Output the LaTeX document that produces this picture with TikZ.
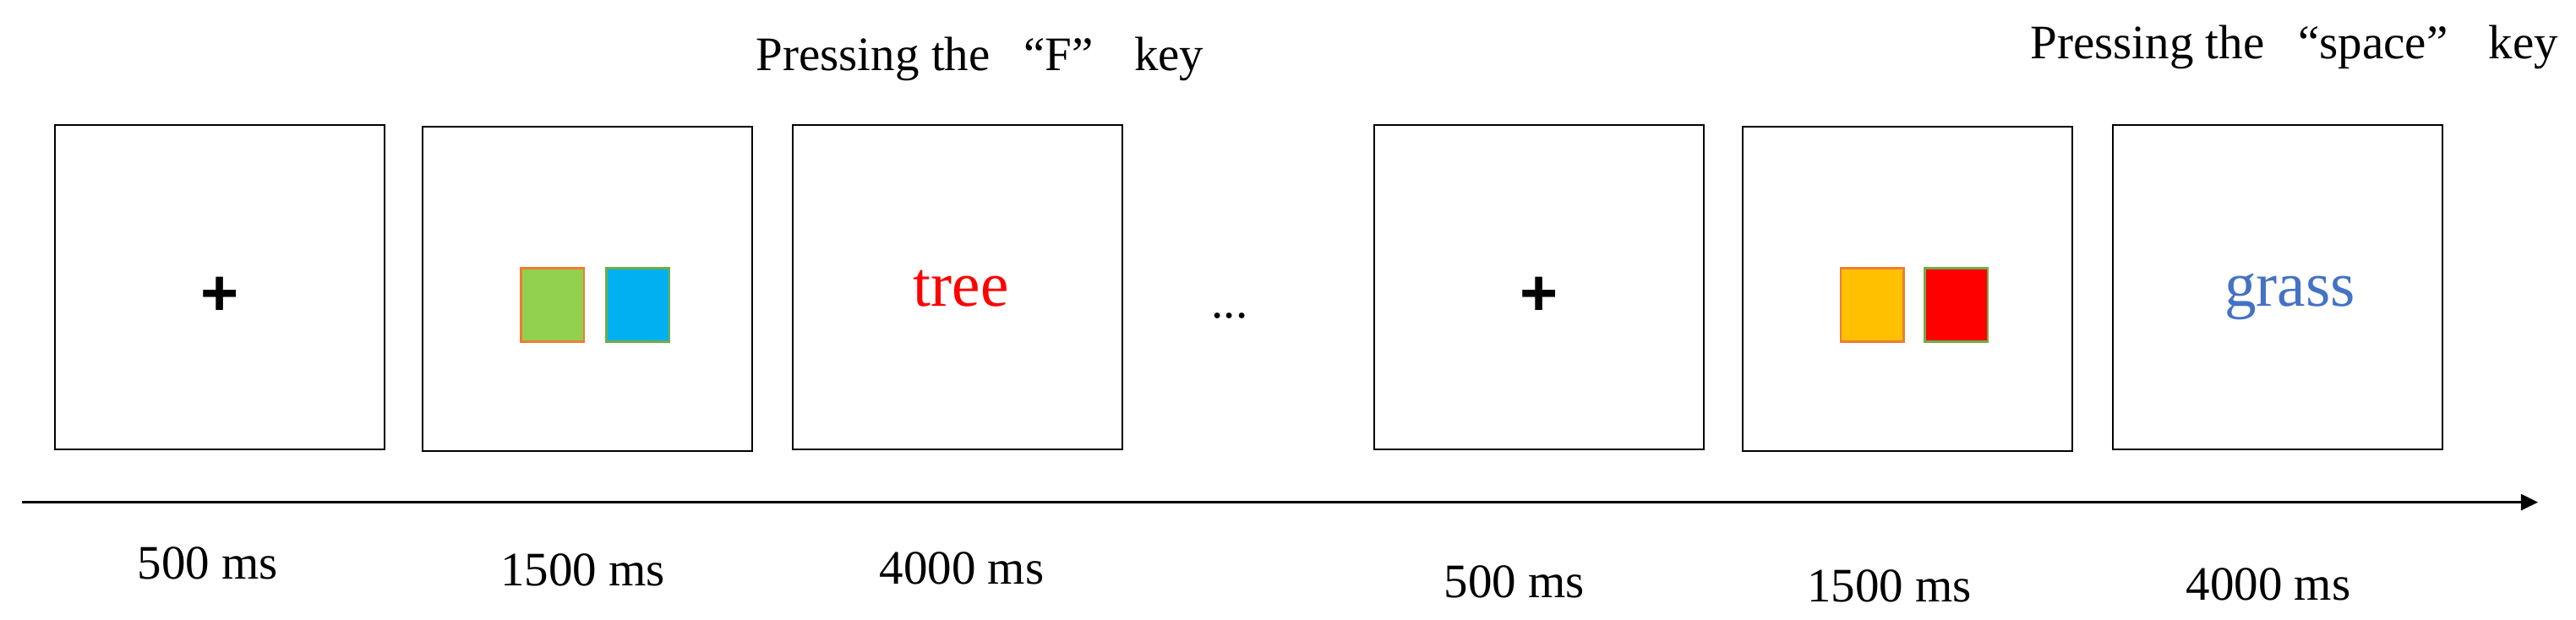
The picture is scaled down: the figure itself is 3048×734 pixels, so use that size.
\documentclass[tikz,border=0pt]{standalone}
\usepackage{fontspec}
\setmainfont{Liberation Serif}
\newfontfamily\plusfont{Liberation Sans}
\usetikzlibrary{arrows.meta}
\definecolor{cgreen}{HTML}{92D050}
\definecolor{corange}{HTML}{ED7D31}
\definecolor{cblue}{HTML}{00B0F0}
\definecolor{cgreenline}{HTML}{70AD47}
\definecolor{cyellow}{HTML}{FFC000}
\definecolor{cred}{HTML}{FF0000}
\definecolor{cgrass}{HTML}{4472C4}
\begin{document}
\begin{tikzpicture}[x=0.01cm,y=-0.01cm,
  frame/.style={draw=black, line width=0.7pt, minimum width=3.90cm, minimum height=3.84cm, inner sep=0},
  patch/.style={line width=0.75pt, minimum width=0.745cm, minimum height=0.875cm, inner sep=0},
  lbl/.style={inner sep=0, anchor=base, font=\fontsize{16.2pt}{19pt}\selectfont},
  keylbl/.style={inner sep=0, anchor=base west, font=\fontsize{16.2pt}{19pt}\selectfont},
  word/.style={inner sep=0, anchor=base, font=\fontsize{21.4pt}{25pt}\selectfont},
  fix/.style={inner sep=0, anchor=base, font=\plusfont\bfseries\fontsize{22pt}{26pt}\selectfont},
  axis/.style={line width=0.7pt, -{Triangle[length=5.7pt,width=5.4pt]}}]
\useasboundingbox (0,0) rectangle (3048,734);

% screens
\node[frame] (b1) at (260,340) {};
\node[frame] (b2) at (695,342) {};
\node[frame] (b3) at (1133,340) {};
\node[frame] (b4) at (1821,340) {};
\node[frame] (b5) at (2257,342) {};
\node[frame] (b6) at (2695,340) {};

% contents
\node[fix] (p1) at (260,374) {+};
\node[patch, draw=corange, fill=cgreen] (g1) at (653.6,361) {};
\node[patch, draw=cgreenline, fill=cblue] (c1) at (754.6,361) {};
\node[word, text=cred] (w1) at (1137,363) {tree};
\node[lbl] (dots) at (1455,377) {...};
\node[fix] (p2) at (1821,374) {+};
\node[patch, draw=corange, fill=cyellow] (y1) at (2215.3,361) {};
\node[patch, draw=cgreenline, fill=cred] (r1) at (2314.8,361) {};
\node[word, text=cgrass] (w2) at (2709.5,363) {grass};

% key labels
\node[keylbl] (k1) at (894,84) {Pressing the\hspace{0.7em}“F”\hspace{0.85em}key};
\node[keylbl] (k2) at (2401.7,70) {Pressing the\hspace{0.7em}“space”\hspace{0.85em}key};

% time axis
\coordinate (t0) at (26,594.6);
\coordinate (t1) at (3003,594.6);
\draw[axis] (t0) -- (t1);

% durations
\node[lbl] (d1) at (246,686) {500 ms};
\node[lbl] (d2) at (689.5,694) {1500 ms};
\node[lbl] (d3) at (1138,692) {4000 ms};
\node[lbl] (d4) at (1792,708) {500 ms};
\node[lbl] (d5) at (2235.6,713) {1500 ms};
\node[lbl] (d6) at (2684,711) {4000 ms};
\end{tikzpicture}
\end{document}
